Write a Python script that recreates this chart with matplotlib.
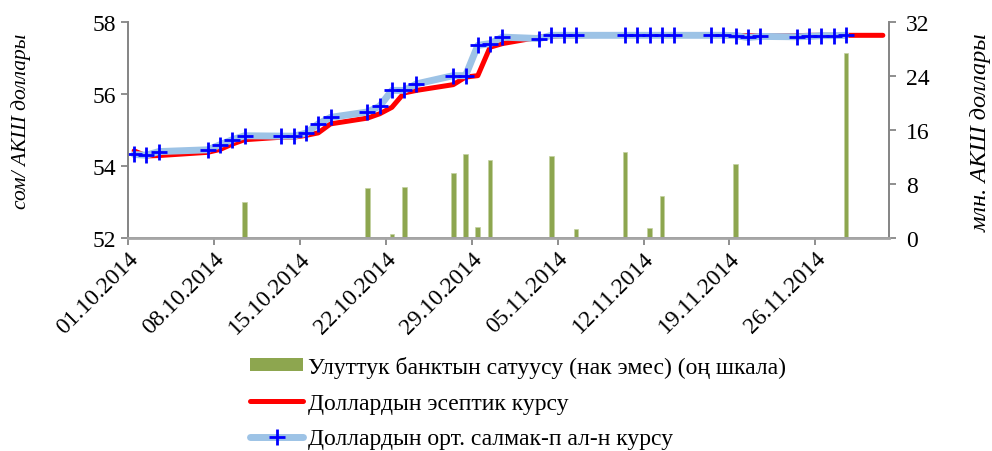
import matplotlib
matplotlib.use('Agg')
import matplotlib.pyplot as plt
import matplotlib.transforms as mtransforms
from matplotlib.lines import Line2D
from matplotlib.patches import Patch
import pandas as pd

plt.rcParams['font.family'] = ['Liberation Serif', 'DejaVu Serif']

# Working days with market data (Oct-Nov 2014)
rate_dates = ['01.10', '02.10', '03.10', '07.10', '08.10', '09.10', '10.10',
              '13.10', '14.10', '15.10', '16.10', '17.10', '20.10', '21.10',
              '22.10', '23.10', '24.10', '27.10', '28.10', '29.10', '30.10',
              '31.10', '03.11', '04.11', '05.11', '06.11', '10.11', '11.11',
              '12.11', '13.11', '14.11', '17.11', '18.11', '19.11', '20.11',
              '21.11', '24.11', '25.11', '26.11', '27.11', '28.11']

# weighted average rate (blue)
avg_rate = [54.32, 54.30, 54.40, 54.45, 54.59, 54.73, 54.84,
            54.83, 54.83, 54.91, 55.17, 55.35, 55.50, 55.66,
            56.10, 56.10, 56.28, 56.51, 56.51, 57.35, 57.40,
            57.58, 57.54, 57.63, 57.63, 57.63, 57.63, 57.63,
            57.63, 57.63, 57.63, 57.63, 57.63, 57.62, 57.57,
            57.60, 57.59, 57.60, 57.62, 57.62, 57.63]

# official rate (red), same days plus 01.12
official_dates = rate_dates + ['01.12']
official_rate = [54.42, 54.28, 54.29, 54.38, 54.46, 54.61, 54.73,
                 54.80, 54.80, 54.85, 54.92, 55.17, 55.33, 55.45,
                 55.63, 56.03, 56.10, 56.26, 56.47, 56.51, 57.30,
                 57.40, 57.58, 57.60, 57.62, 57.62, 57.63, 57.63,
                 57.63, 57.63, 57.63, 57.63, 57.63, 57.63, 57.62,
                 57.62, 57.62, 57.63, 57.63, 57.63, 57.63, 57.63]

# National bank sales (mln USD)
sale_dates = ['10.10', '20.10', '22.10', '23.10', '27.10', '28.10', '29.10',
              '30.10', '04.11', '06.11', '10.11', '12.11', '13.11', '19.11',
              '28.11']
sales = [5.4, 7.4, 0.6, 7.6, 9.6, 12.5, 1.7,
         11.6, 12.2, 1.35, 12.7, 1.45, 6.2, 10.9,
         27.4]

tick_dates = ['01.10', '08.10', '15.10', '22.10', '29.10', '05.11', '12.11',
              '19.11', '26.11']


def to_dt(days, offset_h=12):
    return pd.to_datetime([d + '.2014' for d in days], format='%d.%m.%Y') + pd.Timedelta(hours=offset_h)


fig = plt.figure(figsize=(9.92, 4.52), dpi=100)
ax = fig.add_axes([128 / 992, 1 - 239 / 452, (889 - 128) / 992, (239 - 23) / 452])
ax2 = ax.twinx()
ax.set_zorder(ax2.get_zorder() + 1)
ax.patch.set_visible(False)

grey = '#868686'
bar_color = '#8DA64F'

ax2.bar(to_dt(sale_dates), sales, width=0.38, color=bar_color, edgecolor='#C3D1A0',
        linewidth=0.5)
ax.plot(to_dt(official_dates), official_rate, color='#FF0000', lw=3.6,
        solid_capstyle='round', solid_joinstyle='round')
ax.plot(to_dt(rate_dates), avg_rate, color='#9DC3E6', lw=5,
        solid_capstyle='round', solid_joinstyle='round',
        marker='+', ms=11, mew=2, mec='#0000FF')

ax.set_xlim(pd.Timestamp('2014-10-01'), pd.Timestamp('2014-12-02'))
ax.set_ylim(52, 58)
ax.set_yticks([52, 54, 56, 58])
ax2.set_ylim(0, 32)
ax2.set_yticks([0, 8, 16, 24, 32])

for a in (ax, ax2):
    for s in a.spines.values():
        s.set_color(grey)
        s.set_linewidth(1.3)
    a.spines['top'].set_visible(False)
    a.tick_params(colors=grey, labelcolor='black', labelsize=17, length=5, width=1.3)
ax.spines['bottom'].set_color('#A6A6A6')
ax.spines['bottom'].set_linewidth(2)
ax.tick_params(axis='x', pad=8)
ax2.tick_params(axis='y', pad=7)

ax.set_xticks(to_dt(tick_dates, 0))
ax.set_xticklabels([d + '.2014' for d in tick_dates], rotation=45,
                   ha='right', va='center', rotation_mode='anchor')
# nudge date labels to the right, like the original
shift = mtransforms.ScaledTranslation(7 / 100, 1 / 100, fig.dpi_scale_trans)
for lbl in ax.get_xticklabels():
    lbl.set_transform(lbl.get_transform() + shift)

fig.text(21 / 992, 1 - 121 / 452, 'сом/ АКШ доллары', fontsize=15.5, style='italic',
         rotation=90, ha='center', va='center')
fig.text(981 / 992, 1 - 133 / 452, 'млн. АКШ доллары', fontsize=17.5, style='italic',
         rotation=90, ha='center', va='center')

handles = [
    Patch(facecolor=bar_color, edgecolor='none'),
    Line2D([], [], color='#FF0000', lw=3.6, solid_capstyle='round'),
    Line2D([], [], color='#9DC3E6', lw=5, marker='+', ms=11, mew=2, mec='#0000FF',
           solid_capstyle='round'),
]
labels = ['Улуттук банктын сатуусу (нак эмес) (оң шкала)',
          'Доллардын эсептик курсу',
          'Доллардын орт. салмак-п ал-н курсу']
fig.legend(handles, labels, loc='upper left', bbox_to_anchor=(250 / 992, 1 - 357 / 452),
           frameon=False, fontsize=17, handlelength=2.25, handleheight=0.5,
           handletextpad=0.2, labelspacing=0.62, borderpad=0, borderaxespad=0)

fig.savefig('out.png', dpi=100)
